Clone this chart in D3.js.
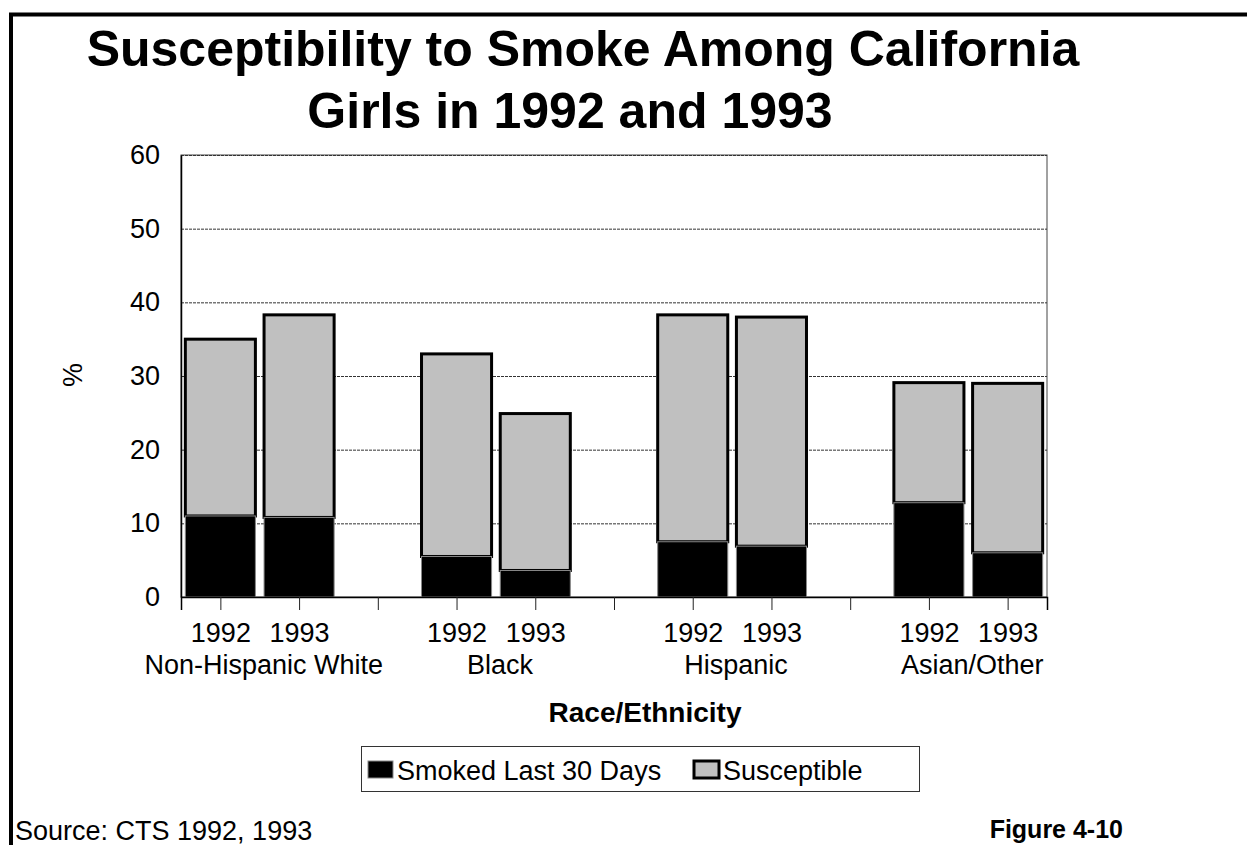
<!DOCTYPE html>
<html>
<head>
<meta charset="utf-8">
<script src="https://cdn.jsdelivr.net/npm/d3@7"></script>
<style>
  html, body { margin: 0; padding: 0; background: #fff; }
  svg { display: block; font-family: Arial, "Liberation Sans", sans-serif; }
</style>
</head>
<body>
<svg id="chart" width="1247" height="845"></svg>
<script>
// Slots along the x axis: two years per group, with an empty slot between groups
const slots = ["NHW-1992", "NHW-1993", "gap1", "B-1992", "B-1993", "gap2",
               "H-1992", "H-1993", "gap3", "A-1992", "A-1993"];
const yearLabels = ["1992", "1993", "", "1992", "1993", "", "1992", "1993", "", "1992", "1993"];
const groups = ["Non-Hispanic White", "Black", "Hispanic", "Asian/Other"];
const groupSlots = [["NHW-1992", "NHW-1993"], ["B-1992", "B-1993"], ["H-1992", "H-1993"], ["A-1992", "A-1993"]];

// Percent of girls who smoked in the last 30 days, and total susceptible + smoked (bar top)
const barSlots   = ["NHW-1992", "NHW-1993", "B-1992", "B-1993", "H-1992", "H-1993", "A-1992", "A-1993"];
const smoked     = [11.0, 10.8, 5.5, 3.6, 7.5, 6.9, 12.8, 6.0];
const totalLevel = [35.0, 38.3, 33.0, 24.9, 38.3, 38.0, 29.1, 29.0];

const yTicks = [0, 10, 20, 30, 40, 50, 60];
const seriesNames = ["Smoked Last 30 Days", "Susceptible"];

const FONT = 27;
const svg = d3.select("#chart");
const margin = { left: 181, right: 1047, top: 155, bottom: 597 };

const x = d3.scaleBand().domain(slots).range([margin.left, margin.right]).paddingInner(0.11).paddingOuter(0.055);
const xc = d3.scalePoint().domain(slots).range([margin.left, margin.right]).padding(0.5);
const y = d3.scaleLinear().domain([0, 60]).range([margin.bottom, margin.top]);

// Outer frame (top and left edges)
svg.append("path")
  .attr("d", "M11,845 L11,14.5 L1247,14.5")
  .attr("fill", "none").attr("stroke", "#000").attr("stroke-width", 4);

// Title
const title = svg.append("text").attr("font-weight", "bold").attr("font-size", 50).attr("fill", "#000");
title.append("tspan").attr("x", 583).attr("y", 66).attr("text-anchor", "middle").text("Susceptibility to Smoke Among California");
title.append("tspan").attr("x", 570).attr("y", 128).attr("text-anchor", "middle").text("Girls in 1992 and 1993");

// Plot frame
svg.append("rect")
  .attr("x", margin.left).attr("y", margin.top)
  .attr("width", margin.right - margin.left).attr("height", margin.bottom - margin.top)
  .attr("fill", "none").attr("stroke", "#444").attr("stroke-width", 1);

// Horizontal gridlines
svg.append("g").selectAll("line").data(yTicks.filter(d => d > 0)).join("line")
  .attr("x1", margin.left).attr("x2", margin.right)
  .attr("y1", d => y(d) + 0.5).attr("y2", d => y(d) + 0.5)
  .attr("stroke", "#333").attr("stroke-width", 1).attr("stroke-dasharray", "3,1");

// Stacked bars: susceptible on top of smoked
const bars = svg.append("g");
barSlots.forEach((s, i) => {
  bars.append("rect")
    .attr("x", x(s)).attr("width", x.bandwidth())
    .attr("y", y(totalLevel[i])).attr("height", y(smoked[i]) - y(totalLevel[i]))
    .attr("fill", "#c0c0c0").attr("stroke", "#000").attr("stroke-width", 3);
  bars.append("rect")
    .attr("x", x(s)).attr("width", x.bandwidth())
    .attr("y", y(smoked[i])).attr("height", y(0) - y(smoked[i]))
    .attr("fill", "#000").attr("stroke", "#888").attr("stroke-width", 1);
});

// Y axis
const yAxis = svg.append("g").attr("transform", `translate(${margin.left},0)`)
  .call(d3.axisLeft(y).tickValues(yTicks).tickSize(0).tickPadding(21));
yAxis.select(".domain").attr("stroke", "#000").attr("stroke-width", 1.5);
yAxis.selectAll("text").attr("font-size", FONT).attr("fill", "#000").attr("font-family", "Arial, 'Liberation Sans', sans-serif");

// X axis with a tick at the centre of every slot
const xAxis = svg.append("g").attr("transform", `translate(0,${margin.bottom})`)
  .call(d3.axisBottom(xc).tickSize(13).tickFormat((d, i) => yearLabels[i]).tickPadding(13));
xAxis.select(".domain").attr("stroke", "#000").attr("stroke-width", 1.5);
xAxis.selectAll(".tick line").attr("stroke", "#222").attr("stroke-width", 1);
xAxis.selectAll("text").attr("font-size", FONT).attr("fill", "#000").attr("font-family", "Arial, 'Liberation Sans', sans-serif");

// Group names under each year pair
svg.append("g").selectAll("text").data(groups).join("text")
  .attr("x", (d, i) => (xc(groupSlots[i][0]) + xc(groupSlots[i][1])) / 2 + 4)
  .attr("y", 674)
  .attr("text-anchor", "middle").attr("font-size", FONT).attr("fill", "#000")
  .text(d => d);

// Axis titles
svg.append("text").attr("x", 645).attr("y", 722).attr("text-anchor", "middle")
  .attr("font-size", 28).attr("font-weight", "bold").text("Race/Ethnicity");
svg.append("text").attr("transform", "translate(82,375) rotate(-90)").attr("text-anchor", "middle")
  .attr("font-size", FONT).text("%");

// Legend
const legend = svg.append("g");
legend.append("rect").attr("x", 361.5).attr("y", 746.5).attr("width", 558).attr("height", 45)
  .attr("fill", "#fff").attr("stroke", "#333").attr("stroke-width", 1);
const legendItems = [
  { name: seriesNames[0], fill: "#000", stroke: "#888", sw: 1, x: 368, tx: 397 },
  { name: seriesNames[1], fill: "#c0c0c0", stroke: "#000", sw: 3, x: 694, tx: 723 }
];
legendItems.forEach(it => {
  legend.append("rect").attr("x", it.x).attr("y", 761).attr("width", 25).attr("height", 17)
    .attr("fill", it.fill).attr("stroke", it.stroke).attr("stroke-width", it.sw);
  legend.append("text").attr("x", it.tx).attr("y", 780).attr("font-size", FONT).attr("fill", "#000").text(it.name);
});

// Footer
svg.append("text").attr("x", 15).attr("y", 840).attr("font-size", FONT).text("Source: CTS 1992, 1993");
svg.append("text").attr("x", 1123).attr("y", 838).attr("text-anchor", "end")
  .attr("font-size", 25).attr("font-weight", "bold").text("Figure 4-10");
</script>
</body>
</html>
